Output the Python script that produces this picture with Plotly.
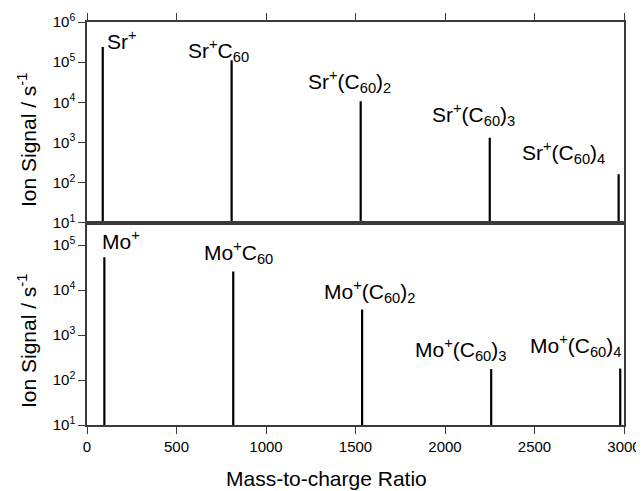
import plotly.graph_objects as go
from plotly.subplots import make_subplots

# ---- data ----
sr_mz = [88, 808, 1529, 2250, 2970]
sr_signal = [2.4e5, 1.12e5, 1.06e4, 1.3e3, 1.6e2]
sr_labels = ["Sr<sup>+</sup>", "Sr<sup>+</sup>C<sub>60</sub>", "Sr<sup>+</sup>(C<sub>60</sub>)<sub>2</sub>",
             "Sr<sup>+</sup>(C<sub>60</sub>)<sub>3</sub>", "Sr<sup>+</sup>(C<sub>60</sub>)<sub>4</sub>"]
mo_mz = [97, 817, 1537, 2258, 2979]
mo_signal = [5.4e4, 2.6e4, 3.7e3, 1.75e2, 1.8e2]
mo_labels = ["Mo<sup>+</sup>", "Mo<sup>+</sup>C<sub>60</sub>", "Mo<sup>+</sup>(C<sub>60</sub>)<sub>2</sub>",
             "Mo<sup>+</sup>(C<sub>60</sub>)<sub>3</sub>", "Mo<sup>+</sup>(C<sub>60</sub>)<sub>4</sub>"]
x_ticks = [0, 500, 1000, 1500, 2000, 2500, 3000]
top_yticks = [1e1, 1e2, 1e3, 1e4, 1e5, 1e6]
top_yticktext = ["10<sup>1</sup>", "10<sup>2</sup>", "10<sup>3</sup>", "10<sup>4</sup>", "10<sup>5</sup>", "10<sup>6</sup>"]
bot_yticks = [1e1, 1e2, 1e3, 1e4, 1e5]
bot_yticktext = ["10<sup>1</sup>", "10<sup>2</sup>", "10<sup>3</sup>", "10<sup>4</sup>", "10<sup>5</sup>"]
floor = 10

# ---- layout constants (window pixels); the page body adds an 8px offset ----
OFF = 8
WIN_W, WIN_H = 644, 491
W, H = WIN_W - OFF, WIN_H - OFF
PL, PR, PT, PB = 87, 624.5, 22, 425          # plot area in window pixels
L, T = PL - OFF, PT - OFF
R, B = WIN_W - PR, WIN_H - PB
PW, PH = PR - PL, PB - PT
split_px = 222.7
split = (PB - split_px) / PH

def px_x(p):
    return (p - PL) / PW

def px_y(p):
    return (PB - p) / PH

FONT = "Arial, Liberation Sans, Helvetica, sans-serif"
AX = "#3a3a3a"

fig = make_subplots(rows=2, cols=1, shared_xaxes=False, vertical_spacing=0)

def stems(mz, sig):
    xs, ys = [], []
    for m, s in zip(mz, sig):
        xs += [m, m, None]
        ys += [floor, s, None]
    return xs, ys

xs, ys = stems(sr_mz, sr_signal)
fig.add_trace(go.Scatter(x=xs, y=ys, mode="lines", line=dict(color="black", width=2.2),
                         showlegend=False, hoverinfo="skip"), row=1, col=1)
xs, ys = stems(mo_mz, mo_signal)
fig.add_trace(go.Scatter(x=xs, y=ys, mode="lines", line=dict(color="black", width=2.2),
                         showlegend=False, hoverinfo="skip"), row=2, col=1)

common_x = dict(range=[0, 3000], tickvals=x_ticks, ticks="outside", ticklen=7, tickwidth=1.3,
                tickcolor=AX, showline=True, linecolor=AX, linewidth=1.5, mirror=True,
                showgrid=False, zeroline=False, automargin=False,
                tickfont=dict(family=FONT, size=15, color="black"))
common_y = dict(type="log", ticks="outside", ticklen=7, tickwidth=1.3, tickcolor=AX,
                showline=True, linecolor=AX, linewidth=1.5, mirror=True, showgrid=False,
                zeroline=False, automargin=False, tickfont=dict(family=FONT, size=15, color="black"))

fig.update_layout(
    width=W, height=H, margin=dict(l=L, r=R, t=T, b=B, pad=0), autosize=False,
    paper_bgcolor="white", plot_bgcolor="white",
    xaxis=dict(common_x, side="top", showticklabels=False, anchor="y", domain=[0, 1]),
    xaxis2=dict(common_x, side="bottom", anchor="y2", domain=[0, 1]),
    yaxis=dict(common_y, range=[1, 6], tickvals=top_yticks, ticktext=top_yticktext, domain=[split, 1]),
    yaxis2=dict(common_y, range=[1, 5.5], tickvals=bot_yticks, ticktext=bot_yticktext, domain=[0, split]),
    font=dict(family=FONT, color="black"),
)

# peak labels (window-pixel positions of label left edge / text centre)
sr_lab_pos = [(105, 40), (186, 50), (306, 82), (430, 115), (520, 152)]
mo_lab_pos = [(100, 240), (202, 252), (322, 291), (413, 349), (528, 345)]
for txt, (px, py) in list(zip(sr_labels, sr_lab_pos)) + list(zip(mo_labels, mo_lab_pos)):
    fig.add_annotation(text=txt, xref="paper", yref="paper", x=px_x(px), y=px_y(py),
                       xanchor="left", yanchor="middle", showarrow=False,
                       font=dict(family=FONT, size=21, color="black"))

# axis titles
ytitle = "Ion Signal / s<sup>-1</sup>"
fig.add_annotation(text=ytitle, xref="paper", yref="paper", x=px_x(27), y=px_y(140),
                   xanchor="center", yanchor="middle", textangle=-90, showarrow=False,
                   font=dict(family=FONT, size=21, color="black"))
fig.add_annotation(text=ytitle, xref="paper", yref="paper", x=px_x(27), y=px_y(341),
                   xanchor="center", yanchor="middle", textangle=-90, showarrow=False,
                   font=dict(family=FONT, size=21, color="black"))
fig.add_annotation(text="Mass-to-charge Ratio", xref="paper", yref="paper", x=px_x(327), y=px_y(478),
                   xanchor="center", yanchor="middle", showarrow=False,
                   font=dict(family=FONT, size=21, color="black"))

fig.write_html("out.html")
